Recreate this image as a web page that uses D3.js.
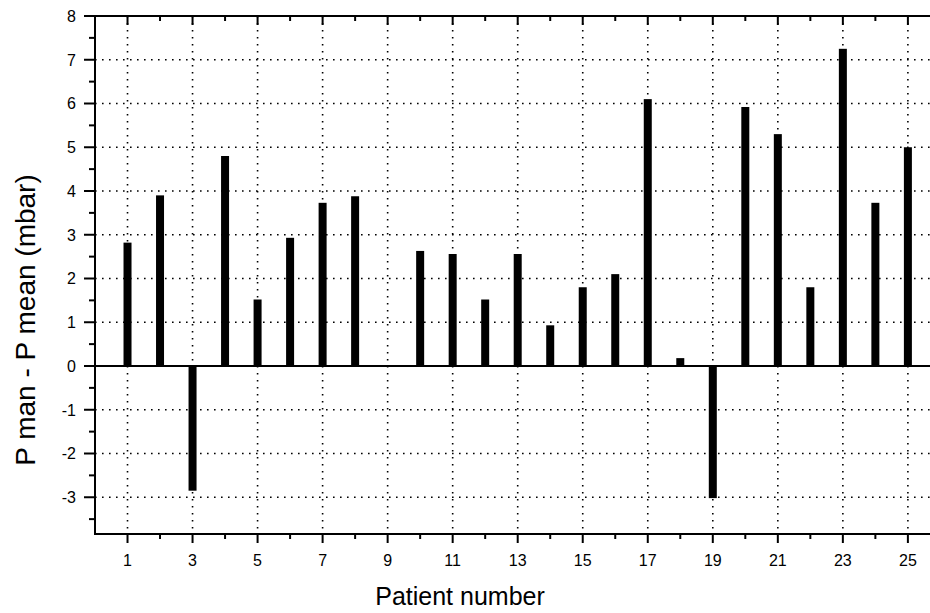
<!DOCTYPE html>
<html>
<head>
<meta charset="utf-8">
<script src="https://cdn.jsdelivr.net/npm/d3@7"></script>
<style>
  body { margin: 0; background: #fff; }
  text { font-family: "Liberation Sans", Arial, sans-serif; fill: #000; }
</style>
</head>
<body>
<div id="chart"></div>
<script>
// Data
const patients = d3.range(1, 26);
const values = [2.82, 3.9, -2.85, 4.8, 1.52, 2.93, 3.73, 3.88, 0, 2.63,
                2.56, 1.52, 2.56, 0.93, 1.8, 2.1, 6.1, 0.18, -3.02, 5.92,
                5.3, 1.8, 7.25, 3.73, 5.0];
const xTickLabels = d3.range(1, 26, 2);
const yTickLabels = d3.range(-3, 9, 1);

// setting
const width = 930, height = 613;
const margin = { left: 95, top: 16, right: 0, bottom: 79 };

const svg = d3.select("#chart").append("svg")
    .attr("width", width)
    .attr("height", height);

const x = d3.scaleLinear().domain([0, 25.68]).range([margin.left, width - margin.right]);
const y = d3.scaleLinear().domain([-3.84, 8]).range([height - margin.bottom, margin.top]);

// Grid (dotted)
svg.append("g").selectAll("line")
    .data(xTickLabels)
    .enter().append("line")
    .attr("x1", d => x(d)).attr("x2", d => x(d))
    .attr("y1", y(8)).attr("y2", y(-3.84))
    .attr("stroke", "#000")
    .attr("stroke-width", 1.6)
    .attr("stroke-dasharray", "1.6,5.4");

svg.append("g").selectAll("line")
    .data(yTickLabels.filter(d => d !== 0 && d !== 8))
    .enter().append("line")
    .attr("x1", x(0)).attr("x2", width)
    .attr("y1", d => y(d)).attr("y2", d => y(d))
    .attr("stroke", "#000")
    .attr("stroke-width", 1.6)
    .attr("stroke-dasharray", "1.6,5.4");

// Bars
const barW = 8;
svg.append("g").selectAll("rect")
    .data(values)
    .enter().append("rect")
    .attr("x", (d, i) => x(patients[i]) - barW / 2)
    .attr("y", d => y(Math.max(0, d)))
    .attr("width", barW)
    .attr("height", d => Math.abs(y(d) - y(0)))
    .attr("fill", "#000");

// Zero line
svg.append("line")
    .attr("x1", x(0)).attr("x2", width)
    .attr("y1", y(0)).attr("y2", y(0))
    .attr("stroke", "#000").attr("stroke-width", 2);

// Left axis
const yAxis = svg.append("g")
    .attr("transform", `translate(${x(0)},0)`);
yAxis.append("line")
    .attr("y1", y(8)).attr("y2", y(-3.84))
    .attr("stroke", "#000").attr("stroke-width", 2);
yAxis.selectAll(".major")
    .data(yTickLabels)
    .enter().append("line")
    .attr("x1", -11).attr("x2", 0)
    .attr("y1", d => y(d)).attr("y2", d => y(d))
    .attr("stroke", "#000").attr("stroke-width", 2);
yAxis.selectAll(".minor")
    .data(d3.range(-3.5, 8, 1))
    .enter().append("line")
    .attr("x1", -6).attr("x2", 0)
    .attr("y1", d => y(d)).attr("y2", d => y(d))
    .attr("stroke", "#000").attr("stroke-width", 2);
yAxis.selectAll("text")
    .data(yTickLabels)
    .enter().append("text")
    .attr("x", -19)
    .attr("y", d => y(d))
    .attr("dy", "0.36em")
    .style("text-anchor", "end")
    .style("font-size", "16px")
    .text(d => d);

// Top axis
const topAxis = svg.append("g");
topAxis.append("line")
    .attr("x1", x(0) - 11).attr("x2", width)
    .attr("y1", y(8)).attr("y2", y(8))
    .attr("stroke", "#000").attr("stroke-width", 2);
topAxis.selectAll(".tick")
    .data(patients)
    .enter().append("line")
    .attr("x1", d => x(d)).attr("x2", d => x(d))
    .attr("y1", y(8))
    .attr("y2", d => y(8) + (d % 2 ? 9 : 5))
    .attr("stroke", "#000").attr("stroke-width", 2);

// Bottom axis
const bottomAxis = svg.append("g");
bottomAxis.append("line")
    .attr("x1", x(0) - 1).attr("x2", width)
    .attr("y1", y(-3.84)).attr("y2", y(-3.84))
    .attr("stroke", "#000").attr("stroke-width", 2);
bottomAxis.selectAll(".tick")
    .data(patients)
    .enter().append("line")
    .attr("x1", d => x(d)).attr("x2", d => x(d))
    .attr("y1", y(-3.84))
    .attr("y2", d => y(-3.84) + (d % 2 ? 9 : 5))
    .attr("stroke", "#000").attr("stroke-width", 2);
bottomAxis.selectAll("text")
    .data(xTickLabels)
    .enter().append("text")
    .attr("x", d => x(d))
    .attr("y", 566)
    .style("text-anchor", "middle")
    .style("font-size", "16px")
    .text(d => d);

// Axis titles
svg.append("text")
    .attr("x", 460)
    .attr("y", 605)
    .style("text-anchor", "middle")
    .style("font-size", "25px")
    .text("Patient number");

svg.append("text")
    .attr("transform", "translate(35, 320) rotate(-90)")
    .style("text-anchor", "middle")
    .style("font-size", "28px")
    .text("P man - P mean (mbar)");
</script>
</body>
</html>
